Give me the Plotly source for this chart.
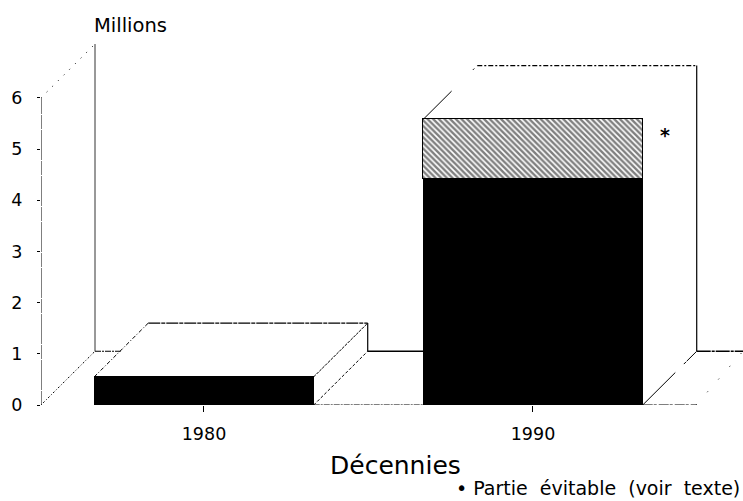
import plotly.graph_objects as go

# Data
decades = [1980, 1990]
category_pos = [1, 2]
main_part = [0.55, 4.42]
avoidable_part = [0.0, 1.16]
y_ticks = [0, 1, 2, 3, 4, 5, 6]

# Pseudo-3D layout constants
BAR_W = 0.667
DX = 54 / 329
DY = 1.05
X_MIN = 0.5046
X_MAX = X_MIN + 702 / 329
Y_MAX = 7.5
FONT = "DejaVu Sans"

totals = [a + b for a, b in zip(main_part, avoidable_part)]
lefts = [p - BAR_W / 2 for p in category_pos]
rights = [p + BAR_W / 2 for p in category_pos]
wall_x = X_MIN + DX
y_top = max(y_ticks)

fig = go.Figure()
fig.add_bar(x=category_pos, y=main_part, width=BAR_W, marker=dict(color="black", line_width=0))
fig.add_bar(x=category_pos, y=avoidable_part, width=BAR_W,
            marker=dict(color="white", line=dict(color="black", width=1),
                        pattern=dict(shape="\\", fgcolor="black", bgcolor="white", size=4, solidity=0.6)))


def seg(xs, ys, width=1.0, dash="solid", color="black"):
    fig.add_scatter(x=xs, y=ys, mode="lines", line=dict(color=color, width=width, dash=dash))


DOT = "1px,7px"
# Left wall
seg([X_MIN, X_MIN], [0, y_top], 1, "14px,1px,30px,1px")
seg([X_MIN, wall_x], [y_top, y_top + DY], 1, DOT)
seg([X_MIN, wall_x], [0, DY], 1, "1px,2px,2px,2px")
seg([wall_x, wall_x], [DY, y_top + DY], 1, "solid", "#333333")
# Back floor
seg([wall_x, wall_x + DX * (DY - main_part[0]) / DY], [DY, DY], 1.2, "6px,1px,2px,1px")
seg([rights[0] + DX, lefts[1]], [DY, DY], 1.6)
seg([rights[1] + DX, X_MAX], [DY, DY], 1.4, "14px,1px,3px,1px")
# Front floor
seg([rights[0], lefts[1]], [0, 0], 1.2, "6px,1px,2px,1px")
seg([lefts[1], rights[1]], [0, 0], 1.2)
seg([rights[1], X_MAX - 47 / 329], [0, 0], 1.2, "10px,1px,3px,2px")
# 1980 box
seg([lefts[0], lefts[0] + DX], [totals[0], totals[0] + DY], 1, "4px,2px,1px,2px")
seg([lefts[0] + DX, rights[0] + DX], [totals[0] + DY, totals[0] + DY], 1.4, "12px,1px,4px,1px")
seg([rights[0], rights[0] + DX], [totals[0], totals[0] + DY], 1, "3px,1px")
seg([rights[0] + DX, rights[0] + DX], [DY, totals[0] + DY], 1.2)
seg([rights[0], rights[0] + DX], [0, DY], 1, "3px,2px")
# 1990 box
seg([lefts[1], lefts[1] + DX], [totals[1], totals[1] + DY], 1, "40px,30px,2px,4px,2px,40px")
seg([lefts[1] + DX, rights[1] + DX], [totals[1] + DY, totals[1] + DY], 1.2, "5px,2px,2px,2px")
seg([rights[1] + DX, rights[1] + DX], [DY, totals[1] + DY], 1.2)
seg([rights[1], rights[1] + DX], [0, DY], 1, "46px,12px,3px,1px,14px,60px")
seg([X_MAX - 47 / 329, X_MAX], [0, DY], 1, "1px,16px")

fig.add_annotation(x=rights[1] + DX * 0.41, y=totals[1] - 0.27, text="<b>*</b>", showarrow=False,
                   font=dict(family=FONT, size=19, color="black"), yshift=-2)
fig.add_annotation(xref="paper", yref="paper", x=(94 - 41) / 702, y=1.0, yshift=-4, xshift=-2, text="Millions",
                   showarrow=False, xanchor="left", yanchor="middle",
                   font=dict(family=FONT, size=19.5, color="black"))
fig.add_annotation(xref="paper", yref="paper", x=1, xanchor="right", y=0, yshift=-96, yanchor="bottom",
                   xshift=-1, text="• Partie\u00a0 évitable\u00a0 (voir\u00a0 texte)", showarrow=False,
                   font=dict(family=FONT, size=19, color="black"))
fig.add_annotation(xref="paper", yref="paper", x=(395 - 41) / 702, y=0, yshift=-44, yanchor="top",
                   text="Décennies", showarrow=False,
                   font=dict(family=FONT, size=25, color="black"))

fig.update_layout(
    width=743, height=501, barmode="stack", showlegend=False, hovermode=False,
    paper_bgcolor="white", plot_bgcolor="white", bargap=0,
    margin=dict(l=41, r=0, t=21, b=96),
    font=dict(family=FONT, size=16, color="black"),
)
fig.update_xaxes(range=[X_MIN, X_MAX], tickvals=category_pos, ticktext=[str(d) for d in decades],
                 showgrid=False, zeroline=False, showline=False, ticks="outside", ticklen=6,
                 tickcolor="black", tickfont=dict(family=FONT, size=17.5), ticklabelstandoff=7)
fig.update_yaxes(range=[0, Y_MAX], tickvals=y_ticks, showgrid=False, zeroline=False, showline=False,
                 ticks="outside", ticklen=3, tickcolor="black", tickfont=dict(family=FONT, size=17.5),
                 ticklabelstandoff=11)

fig.write_html("out.html", config=dict(displayModeBar=False),
               post_script="document.body.style.margin='0';document.body.style.overflow='hidden';")
